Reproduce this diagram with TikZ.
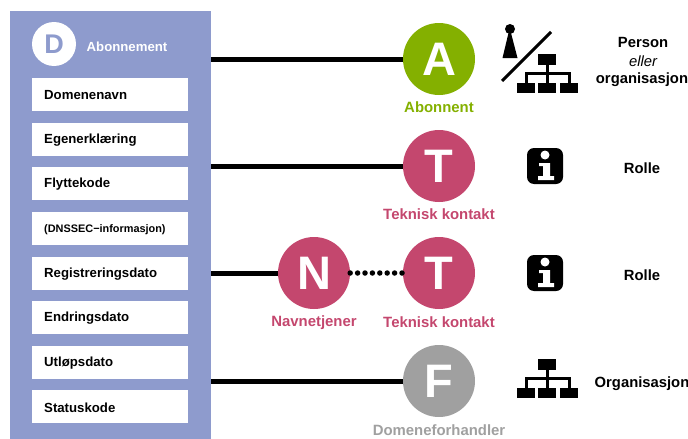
\documentclass[tikz,border=0pt]{standalone}
\usepackage{fontspec}
\setmainfont{Liberation Sans}
\definecolor{panelblue}{HTML}{8E9BCD}
\definecolor{rolered}{HTML}{C4476E}
\definecolor{abgreen}{HTML}{84B000}
\definecolor{dfgray}{HTML}{A0A0A0}
\tikzset{
  x=1pt,y=-1pt,
  bigc/.style={circle,fill=#1,minimum size=72pt,inner sep=0pt,text=white,font=\fontsize{47}{50}\selectfont\bfseries},
  lab/.style={text=#1,font=\fontsize{14.9}{16}\selectfont\bfseries,inner sep=0pt},
  side/.style={text=black,font=\fontsize{14.8}{16}\selectfont\bfseries,inner sep=0pt},
  link/.style={line width=5pt,draw=black},
  orgb/.style={fill=black,draw=none},
  orgl/.style={draw=black,line width=3pt},
  fbox/.style={fill=white,minimum width=156pt,minimum height=33pt,inner sep=0pt,anchor=west},
  ftext/.style={anchor=west,inner sep=0pt,font=\fontsize{13.2}{15}\selectfont\bfseries},
  pics/orgicon/.style={code={
    \fill[orgb] (-9,-14) rectangle (9,-3);
    \fill[orgb] (-30,15) rectangle (-12,25);
    \fill[orgb] (-9,15) rectangle (9,25);
    \fill[orgb] (13,15) rectangle (31,25);
    \draw[orgl] (0,-3) -- (0,15);
    \draw[orgl] (-21,15) -- (-21,5) -- (22,5) -- (22,15);
  }},
  pics/infoicon/.style={code={
    \fill[black,rounded corners=7pt] (-18,-18) rectangle (18,18);
    \fill[white] (0,-11) circle (4.5);
    \fill[white] (-6,-3) -- (5,-3) -- (5,10) -- (9,10) -- (9,14) -- (-7,14) -- (-7,10) -- (-2,10) -- (-2,0) -- (-6,0) -- cycle;
  }}
}
\begin{document}
\begin{tikzpicture}
\useasboundingbox (0,0) rectangle (688,439);
\node[fill=panelblue,minimum width=201pt,minimum height=428pt,inner sep=0pt] (panel) at (110.5,225) {};
\node[circle,fill=white,minimum size=44pt,inner sep=0pt,text=panelblue,font=\fontsize{27}{30}\selectfont\bfseries] (d) at (54,44) {D};
\node[anchor=west,text=white,font=\fontsize{13.2}{15}\selectfont\bfseries,inner sep=0pt] (dt) at (86.5,46.5) {Abonnement};
\foreach \n/\y/\t in {f1/94.5/Domenenavn,f2/139.5/Egenerklæring,f3/183.5/Flyttekode,f5/273.5/Registreringsdato,f6/317.5/Endringsdato,f7/362.5/Utløpsdato,f8/406.5/Statuskode}{
  \node[fbox] (\n) at (32,\y) {};
  \node[ftext] (\n t) at (44,\y+1) {\t};
}
\node[fbox] (f4) at (32,228.5) {};
\node[anchor=west,inner sep=0pt,font=\fontsize{10.9}{12}\selectfont\bfseries] (f4t) at (44,229.5) {(DNSSEC−informasjon)};

\node[bigc=abgreen] (A) at (439,59) {A};
\node[bigc=rolered] (T1) at (439,166) {T};
\node[bigc=rolered] (N) at (314,273) {N};
\node[bigc=rolered] (T2) at (439,273) {T};
\node[bigc=dfgray] (F) at (439,381) {F};

\draw[link] (panel.east |- A) -- (A);
\draw[link] (panel.east |- T1) -- (T1);
\draw[link] (panel.east |- N) -- (N);
\draw[link] (panel.east |- F) -- (F);
\draw[line width=5.5pt,line cap=round,dash pattern=on 0pt off 7.4pt,draw=black] (N) -- (T2);

\node[lab=abgreen] (la) at (439,107) {Abonnent};
\node[lab=rolered] (lt1) at (439,214.5) {Teknisk kontakt};
\node[lab=rolered] (ln) at (314,322.5) {Navnetjener};
\node[lab=rolered] (lt2) at (439,322.5) {Teknisk kontakt};
\node[lab=dfgray] (lf) at (439,430) {Domeneforhandler};

\fill[black] (510,29) circle (5);
\fill[black] (508.5,33) -- (511,33) -- (517.5,58) -- (502.5,58) -- cycle;
\draw[black,line width=3pt] (502,81) -- (551,32);
\path (547,68) pic {orgicon};
\node[side] (s1) at (643,42) {Person};
\node[text=black,font=\fontsize{14.8}{16}\selectfont\itshape,inner sep=0pt] (s2) at (643,61) {eller};
\node[side] (s3) at (642,80) {organisasjon};

\path (545,166) pic {infoicon};
\path (545,273) pic {infoicon};
\path (547,373) pic {orgicon};
\node[side] (r1) at (642,168) {Rolle};
\node[side] (r2) at (642,275) {Rolle};
\node[side] (o) at (642,384) {Organisasjon};
\end{tikzpicture}
\end{document}
